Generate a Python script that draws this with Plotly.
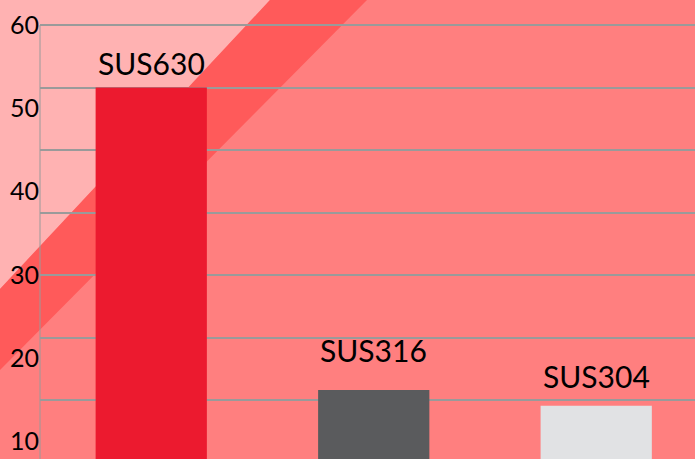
import plotly.graph_objects as go

categories = ["SUS630", "SUS316", "SUS304"]
values = [52.5, 16.2, 14.3]
bar_colors = ["#EC1A2F", "#5A5B5D", "#E1E2E4"]
tick_vals = [10, 20, 30, 40, 50, 60]
tick_text = ["10", "20", "30", "40", "50", "60"]

W, H = 695, 459
L, T = 40, 20
PW, PH = W - L, H - T


def px(x, y):
    return ((x - L) / PW, (H - y) / PH)


def path(points):
    pts = [px(x, y) for x, y in points]
    return "M " + " L ".join(f"{a:.5f},{b:.5f}" for a, b in pts) + " Z"


fig = go.Figure()
fig.add_trace(go.Bar(
    x=categories, y=values, marker=dict(color=bar_colors, line=dict(width=0)),
    width=0.5, showlegend=False, hoverinfo="skip"))
fig.add_trace(go.Scatter(x=[categories[0]], y=[values[0]], yaxis="y2",
                         mode="markers", marker=dict(opacity=0),
                         showlegend=False, hoverinfo="skip"))

yshifts = [5, 20, 10]
for c, v, s in zip(categories, values, yshifts):
    fig.add_annotation(x=c, y=v, text=c, showarrow=False, yanchor="bottom",
                       yshift=s, font=dict(family="Lato", size=30, color="#000000"))

shapes = [
    dict(type="path", xref="paper", yref="paper", layer="below",
         path=path([(0, 0), (270, 0), (0, 289)]),
         fillcolor="#FFB2B2", line=dict(width=0)),
    dict(type="path", xref="paper", yref="paper", layer="below",
         path=path([(270, 0), (367, 0), (0, 370), (0, 289)]),
         fillcolor="#FF5A5A", line=dict(width=0)),
]

ppu = 250 / 30
yr = [60 - (H - 25) / ppu, 60 + 5 / ppu]

fig.update_layout(
    width=W, height=H,
    margin=dict(l=L, r=0, t=T, b=0, pad=0),
    paper_bgcolor="#FF7F7F", plot_bgcolor="rgba(0,0,0,0)",
    shapes=shapes, showlegend=False, bargap=0.5,
    xaxis=dict(range=[-0.5, 2.444], showgrid=False, showticklabels=False,
               zeroline=False, showline=False, ticks=""),
    yaxis=dict(range=yr, tickvals=tick_vals, ticktext=tick_text, showgrid=False,
               zeroline=False, showline=False, ticks="",
               tickfont=dict(family="Lato", size=25, color="#000000"),
               ticklabelstandoff=0),
    yaxis2=dict(range=yr, overlaying="y", tick0=0, dtick=7.5, showgrid=True,
                gridcolor="#9A9A9A", gridwidth=1.5, showticklabels=False,
                zeroline=False, showline=False, ticks=""),
)

# y-axis line spanning from the top gridline downward
fig.add_shape(type="line", xref="paper", yref="y", x0=0, x1=0, y0=yr[0], y1=60,
              line=dict(color="#9A9A9A", width=1))

fig.write_html("out.html")
